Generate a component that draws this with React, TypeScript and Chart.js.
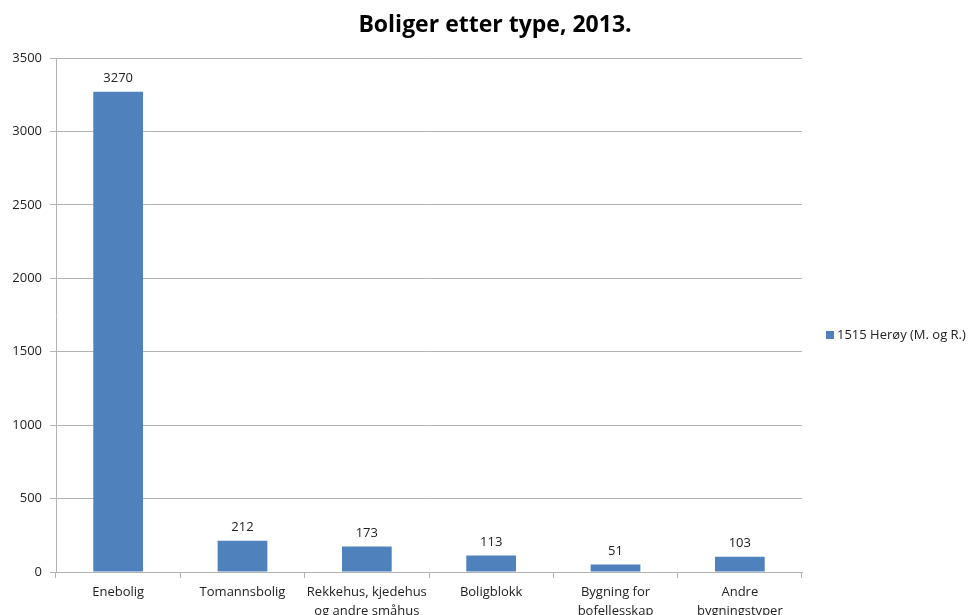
import React, { useEffect, useRef } from "react";
import { Chart, registerables } from "chart.js";

Chart.register(...registerables);

const categories: (string | string[])[] = [
  "Enebolig",
  "Tomannsbolig",
  ["Rekkehus, kjedehus", "og andre småhus"],
  "Boligblokk",
  ["Bygning for", "bofellesskap"],
  ["Andre", "bygningstyper"],
];
const seriesLabel = "1515 Herøy (M. og R.)";
const values = [3270, 212, 173, 113, 51, 103];
const titleText = "Boliger etter type, 2013.";

const FONT = "'Open Sans', Lato, sans-serif";
const BAR = "#4F81BD";
const TEXT = "#222";
const GRID = "#b3b3b3";

export default function App() {
  const ref = useRef<HTMLCanvasElement | null>(null);

  useEffect(() => {
    document.body.style.margin = "0";
    document.body.style.overflow = "hidden";
    const canvas = ref.current;
    if (!canvas) return;

    const labelsPlugin = {
      id: "valueLabels",
      afterDatasetsDraw(chart: any) {
        const ctx = chart.ctx;
        const meta = chart.getDatasetMeta(0);
        ctx.save();
        ctx.font = `13px ${FONT}`;
        ctx.fillStyle = TEXT;
        ctx.textAlign = "center";
        ctx.textBaseline = "bottom";
        meta.data.forEach((el: any, i: number) => {
          ctx.fillText(String(chart.data.datasets[0].data[i]), el.x, el.y - 7);
        });
        ctx.restore();
      },
    };

    const overlayPlugin = {
      id: "overlay",
      afterDraw(chart: any) {
        const ctx = chart.ctx;
        const ds = chart.data.datasets[0];
        ctx.save();
        // title
        ctx.font = `bold 23px ${FONT}`;
        ctx.fillStyle = "#000";
        ctx.textAlign = "center";
        ctx.textBaseline = "middle";
        ctx.fillText(titleText, 495, 25);
        // legend
        const x = chart.chartArea.right + 24;
        const y = 335;
        ctx.fillStyle = ds.backgroundColor;
        ctx.fillRect(x, y - 4, 8, 8);
        ctx.font = `13px ${FONT}`;
        ctx.fillStyle = TEXT;
        ctx.textAlign = "left";
        ctx.fillText(ds.label, x + 11, y);
        ctx.restore();
      },
    };

    const chart = new Chart(canvas, {
      type: "bar",
      data: {
        labels: categories,
        datasets: [
          {
            label: seriesLabel,
            data: values,
            backgroundColor: BAR,
            borderWidth: 0,
            categoryPercentage: 0.4,
            barPercentage: 1,
          },
        ],
      },
      options: {
        animation: false,
        responsive: false,
        maintainAspectRatio: false,
        layout: { padding: { left: 0, right: 172, top: 58, bottom: 0 } },
        plugins: {
          legend: { display: false },
          tooltip: { enabled: false },
          title: { display: false },
        },
        scales: {
          x: {
            grid: {
              display: true,
              offset: true,
              drawOnChartArea: false,
              drawTicks: true,
              tickLength: 6,
              color: GRID,
            },
            border: { display: true, color: GRID },
            ticks: {
              color: TEXT,
              font: { family: FONT, size: 13, lineHeight: 1.45 },
              padding: 5,
              maxRotation: 0,
              autoSkip: false,
            },
            afterFit(scale: any) {
              scale.height = 58;
            },
          },
          y: {
            min: 0,
            max: 3500,
            ticks: {
              stepSize: 500,
              color: TEXT,
              font: { family: FONT, size: 13 },
              padding: 8,
              callback: (v: any) => String(v),
            },
            grid: { color: GRID, tickLength: 6 },
            border: { display: true, color: GRID },
            afterFit(scale: any) {
              scale.width = 56;
            },
          },
        },
      },
      plugins: [labelsPlugin, overlayPlugin],
    });

    return () => chart.destroy();
  }, []);

  return (
    <div style={{ width: 974, height: 615, overflow: "hidden", background: "#fff" }}>
      <canvas ref={ref} width={974} height={630} style={{ display: "block" }} />
    </div>
  );
}
